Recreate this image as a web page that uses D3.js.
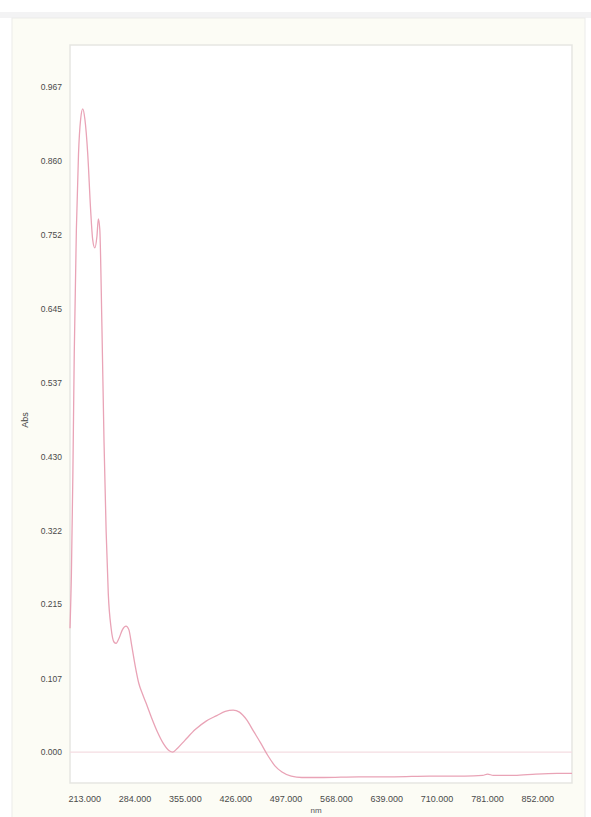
<!DOCTYPE html>
<html>
<head>
<meta charset="utf-8">
<script src="https://cdn.jsdelivr.net/npm/d3@7"></script>
<style>
  html, body { margin: 0; padding: 0; background: #ffffff; }
  svg { display: block; }
  text { font-family: "Liberation Sans", Arial, sans-serif; }
</style>
</head>
<body>
<script>
// Absorption spectrum: wavelength (nm) vs absorbance
const wavelength = [193, 195, 197, 199, 202, 205, 208, 211, 214, 218, 222, 225, 228, 231, 233, 235,
  238, 241, 244, 247, 251, 255, 258, 262, 267, 272, 276, 280, 285, 290, 295, 300, 308, 316, 325,
  333, 338, 345, 355, 370, 385, 400, 412, 423, 432, 442, 452, 462, 472, 482, 492, 505, 520, 550,
  600, 650, 700, 750, 775, 782, 790, 820, 850, 880, 901];
const absorbance = [0.18, 0.26, 0.40, 0.58, 0.76, 0.87, 0.92, 0.935, 0.92, 0.87, 0.79, 0.745, 0.733,
  0.75, 0.775, 0.76, 0.62, 0.45, 0.32, 0.23, 0.18, 0.16, 0.158, 0.165, 0.178, 0.183, 0.178, 0.155,
  0.125, 0.10, 0.085, 0.072, 0.05, 0.03, 0.012, 0.002, 0.0, 0.006, 0.017, 0.033, 0.045, 0.053,
  0.059, 0.061, 0.058, 0.047, 0.03, 0.013, -0.005, -0.02, -0.029, -0.035, -0.037, -0.037, -0.036,
  -0.036, -0.035, -0.035, -0.034, -0.032, -0.034, -0.034, -0.032, -0.031, -0.031];

const yTicks = [0.000, 0.107, 0.215, 0.322, 0.430, 0.537, 0.645, 0.752, 0.860, 0.967];
const xTicks = [213, 284, 355, 426, 497, 568, 639, 710, 781, 852];

const W = 591, H = 817;
const plot = { left: 70, top: 45, right: 572, bottom: 783 };

const svg = d3.select("body").append("svg").attr("width", W).attr("height", H);

// outer panel
svg.append("rect").attr("x", 0).attr("y", 0).attr("width", W).attr("height", H).attr("fill", "#ffffff");
svg.append("rect").attr("x", 0).attr("y", 12).attr("width", W).attr("height", 6).attr("fill", "#f3f3f4");
svg.append("rect").attr("x", 12).attr("y", 18).attr("width", 573).attr("height", 800)
  .attr("fill", "#fcfcf5").attr("stroke", "#ececea").attr("stroke-width", 1);

// plot area
svg.append("rect").attr("x", plot.left).attr("y", plot.top)
  .attr("width", plot.right - plot.left).attr("height", plot.bottom - plot.top)
  .attr("fill", "#ffffff").attr("stroke", "#e6e6e2").attr("stroke-width", 1.5);

const x = d3.scaleLinear().domain([193, 901]).range([plot.left, plot.right]);
const y = d3.scaleLinear().domain([-0.045, 1.028]).range([plot.bottom, plot.top]);

// y axis labels
const yAxis = d3.axisLeft(y).tickValues(yTicks).tickFormat(d3.format(".3f")).tickSize(0).tickPadding(8);
const gy = svg.append("g").attr("transform", `translate(${plot.left},0)`).call(yAxis);
gy.select(".domain").remove();
gy.selectAll("text").attr("font-size", 8.5).attr("fill", "#4a4a4a");

// x axis labels
const xAxis = d3.axisBottom(x).tickValues(xTicks).tickFormat(d3.format(".3f")).tickSize(0).tickPadding(13);
const gx = svg.append("g").attr("transform", `translate(0,${plot.bottom})`).call(xAxis);
gx.select(".domain").remove();
gx.selectAll("text").attr("font-size", 9).attr("fill", "#4a4a4a");

// axis titles
svg.append("text").attr("transform", `translate(28,420) rotate(-90)`)
  .attr("text-anchor", "middle").attr("font-size", 9).attr("fill", "#444").text("Abs");
svg.append("text").attr("x", 316).attr("y", 813)
  .attr("text-anchor", "middle").attr("font-size", 8).attr("fill", "#555").text("nm");

// baseline at zero absorbance
svg.append("line").attr("x1", plot.left).attr("x2", plot.right)
  .attr("y1", y(0)).attr("y2", y(0)).attr("stroke", "#f4dde2").attr("stroke-width", 1.2);

// spectrum trace
const pts = wavelength.map((w, i) => [w, absorbance[i]]);
const line = d3.line().x(d => x(d[0])).y(d => y(d[1])).curve(d3.curveMonotoneX);
svg.append("path").datum(pts).attr("d", line)
  .attr("fill", "none").attr("stroke", "#e9a3b6").attr("stroke-width", 1.3);
</script>
</body>
</html>
